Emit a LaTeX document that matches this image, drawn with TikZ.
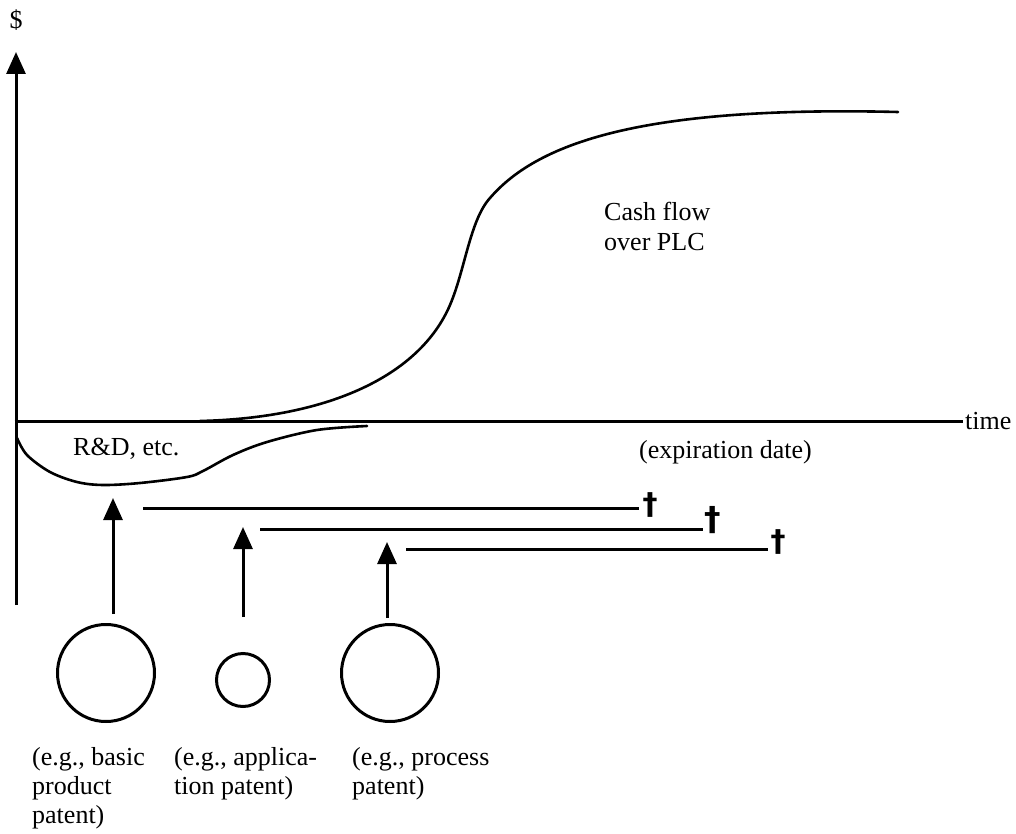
\documentclass[tikz,border=0pt]{standalone}
\usepackage{fontspec}
\setmainfont{Liberation Serif}
\newfontfamily\daggerfont{DejaVu Sans}
\usetikzlibrary{arrows.meta}

\begin{document}
\begin{tikzpicture}[x=1pt,y=-1pt,
  axisline/.style={line width=3pt},
  crv/.style={line width=2.6pt, line join=round, line cap=round},
  uparrow/.style={line width=3pt, -{Triangle[length=22pt,width=19pt]}},
  patent/.style={circle, draw, line width=3pt, inner sep=0pt},
  lbl/.style={font=\fontsize{26}{29}\selectfont, inner sep=0pt, align=left},
  dg/.style={font=\daggerfont\bfseries\fontsize{30}{33}\selectfont, inner sep=0pt}]

\useasboundingbox (0,0) rectangle (1016,834);

% axes
\coordinate (ybot) at (16,605);
\coordinate (ytop) at (16,52);
\coordinate (xleft) at (14.5,421);
\coordinate (xright) at (963,421);
\draw[uparrow] (ybot) -- (ytop);
\draw[axisline] (xleft) -- (xright);
\node[lbl, anchor=base] (dollar) at (16,29) {\$};
\node[lbl, anchor=base west] (time) at (965,429) {time};

% cash flow over the product life cycle
\coordinate (cfa) at (200,421);
\coordinate (cfb) at (450,305);
\coordinate (cfc) at (490,198);
\coordinate (cfd) at (898,112);
\draw[crv] (cfa) .. controls (330,418) and (420,375) .. (cfb)
                 .. controls (465,270) and (470,220) .. (cfc)
                 .. controls (540,140) and (650,106) .. (cfd);
\node[lbl, anchor=base west] (cf) at (604,250) {Cash flow\\over PLC};

% R&D outlay
\draw[crv] plot[smooth, tension=0.55] coordinates {
  (17,438) (27,455) (50,472) (77,482) (103,485) (140,483) (187,477)
  (203,471) (233,455) (267,442) (317,430) (367,426)};
\node[lbl, anchor=base west] (rd) at (73,455) {R\&D, etc.};
\node[lbl, anchor=base west] (exp) at (639,458) {(expiration date)};

% patents
\node[patent, minimum size=97pt] (c1) at (106,673) {};
\node[patent, minimum size=53pt] (c2) at (243,680) {};
\node[patent, minimum size=97pt] (c3) at (390,673) {};

\coordinate (a1s) at (113,614); \coordinate (a1e) at (113,498);
\coordinate (a2s) at (243,617); \coordinate (a2e) at (243,527);
\coordinate (a3s) at (387,618); \coordinate (a3e) at (387,542);
\draw[uparrow] (a1s) -- (a1e);
\draw[uparrow] (a2s) -- (a2e);
\draw[uparrow] (a3s) -- (a3e);

% patent lifetimes
\coordinate (l1s) at (143,508); \coordinate (l1e) at (639,508);
\coordinate (l2s) at (260,529); \coordinate (l2e) at (703,529);
\coordinate (l3s) at (406,549); \coordinate (l3e) at (768,549);
\draw[axisline] (l1s) -- (l1e);
\draw[axisline] (l2s) -- (l2e);
\draw[axisline] (l3s) -- (l3e);
\node[dg] (d1) at (650,505) {†};
\node[dg, font=\daggerfont\bfseries\fontsize{33}{36}\selectfont] (d2) at (713,520) {†};
\node[dg] (d3) at (778,542) {†};

\node[lbl, anchor=base west] (t1) at (32,823) {(e.g., basic\\product\\patent)};
\node[lbl, anchor=base west] (t2) at (174,794) {(e.g., applica-\\tion patent)};
\node[lbl, anchor=base west] (t3) at (352,794) {(e.g., process\\patent)};
\end{tikzpicture}
\end{document}
